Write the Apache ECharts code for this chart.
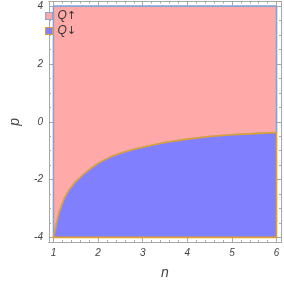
<!DOCTYPE html>
<html><head><meta charset="utf-8">
<script src="https://cdn.jsdelivr.net/npm/echarts@6/dist/echarts.min.js"></script>
<style>html,body{margin:0;padding:0;background:#fff}#c{width:284px;height:285px}</style>
</head><body><div id="c"></div>
<script>
// boundary curve between the two regions
const nValues = [1.0, 1.03, 1.064, 1.134, 1.24, 1.35, 1.5, 1.65, 1.8, 2.0, 2.25, 2.5, 2.75, 3.0, 3.5, 4.0, 4.5, 5.0, 5.5, 6.0];
const pValues = [-4.0, -3.8, -3.56, -3.10, -2.67, -2.36, -2.07, -1.86, -1.66, -1.44, -1.24, -1.09, -0.98, -0.88, -0.72, -0.60, -0.51, -0.45, -0.41, -0.37];
const nRange = [1, 6];
const pRange = [-4, 4];
const regionNames = ['Q\u2191', 'Q\u2193'];
const xMajorTicks = [1, 2, 3, 4, 5, 6];
const xMinorTicks = [1.2,1.4,1.6,1.8,2.2,2.4,2.6,2.8,3.2,3.4,3.6,3.8,4.2,4.4,4.6,4.8,5.2,5.4,5.6,5.8];
const yMajorTicks = [-4, -2, 0, 2, 4];
const yMinorTicks = [-3.5,-3,-2.5,-1.5,-1,-0.5,0.5,1,1.5,2.5,3,3.5];

const pad = 0.02;
const xMin = nRange[0] - pad*(nRange[1]-nRange[0]), xMax = nRange[1] + pad*(nRange[1]-nRange[0]);
const yMin = pRange[0] - pad*(pRange[1]-pRange[0]), yMax = pRange[1] + pad*(pRange[1]-pRange[0]);

const frameColor = '#a8a8a8';
const labelFont = {fontFamily: 'Liberation Sans', fontStyle: 'italic', fontSize: 10, color: '#444'};

function mkX(pos, ticks, len, labels, name) {
  return {
    type: 'value', min: xMin, max: xMax, position: pos, gridIndex: 0,
    axisLine: {show: true, onZero: false, lineStyle: {color: frameColor, width: 1}},
    axisTick: {show: true, inside: true, length: len, customValues: ticks, lineStyle: {color: frameColor}},
    axisLabel: labels ? Object.assign({show: true, customValues: ticks, margin: 6}, labelFont) : {show: false},
    splitLine: {show: false},
    name: name || '', nameLocation: 'middle', nameGap: 24,
    nameTextStyle: {fontFamily: 'Liberation Sans', fontStyle: 'italic', fontSize: 14, color: '#444'}
  };
}
function mkY(pos, ticks, len, labels, name) {
  return {
    type: 'value', min: yMin, max: yMax, position: pos, gridIndex: 0,
    axisLine: {show: true, onZero: false, lineStyle: {color: frameColor, width: 1}},
    axisTick: {show: true, inside: true, length: len, customValues: ticks, lineStyle: {color: frameColor}},
    axisLabel: labels ? Object.assign({show: true, customValues: ticks, margin: 6}, labelFont) : {show: false},
    splitLine: {show: false},
    name: name || '', nameLocation: 'middle', nameGap: 27,
    nameTextStyle: {fontFamily: 'Liberation Sans', fontStyle: 'italic', fontSize: 14, color: '#444'}
  };
}

const upperPoly = () => {
  const pts = [[nRange[0], pRange[0]], [nRange[0], pRange[1]], [nRange[1], pRange[1]]];
  for (let i = nValues.length - 1; i >= 0; i--) pts.push([nValues[i], pValues[i]]);
  return pts;
};
const lowerPoly = () => {
  const pts = [];
  for (let i = 0; i < nValues.length; i++) pts.push([nValues[i], pValues[i]]);
  pts.push([nRange[1], pRange[0]]);
  pts.push([nRange[0], pRange[0]]);
  return pts;
};

function regionSeries(name, polyFn, fill, stroke) {
  return {
    type: 'custom', name: name, xAxisIndex: 0, yAxisIndex: 0, clip: false,
    data: [[nRange[0], pRange[0]]],
    itemStyle: {color: fill, borderColor: stroke, borderWidth: 1.5},
    renderItem: function (params, api) {
      const pts = polyFn().map(p => api.coord(p));
      return {type: 'polygon', shape: {points: pts, smooth: 0}, style: {fill: fill, stroke: stroke, lineWidth: 1.6, lineJoin: 'round'}};
    }
  };
}

const chart = echarts.init(document.getElementById('c'), null, {renderer: 'canvas'});
chart.setOption({
  animation: false,
  grid: {left: 37, right: 3, top: 1.5, bottom: 38.5, containLabel: false},
  xAxis: [
    mkX('bottom', xMajorTicks, 4, true, 'n'),
    mkX('bottom', xMinorTicks, 2, false),
    mkX('top', xMajorTicks, 4, false),
    mkX('top', xMinorTicks, 2, false)
  ],
  yAxis: [
    mkY('left', yMajorTicks, 4, true, 'p'),
    mkY('left', yMinorTicks, 2, false),
    mkY('right', yMajorTicks, 4, false),
    mkY('right', yMinorTicks, 2, false)
  ],
  legend: {
    orient: 'vertical', left: 45, top: 9, itemGap: 1, itemWidth: 7, itemHeight: 7,
    icon: 'rect', padding: 0,
    formatter: function (name) { return '{q|' + name.charAt(0) + '}{a|' + name.slice(1) + '}'; },
    textStyle: {
      padding: [0, 0, 0, 0],
      lineHeight: 14,
      rich: {
        q: {fontFamily: 'Liberation Sans', fontStyle: 'italic', fontSize: 12, color: '#333', lineHeight: 14},
        a: {fontFamily: 'DejaVu Sans', fontSize: 11, color: '#333', lineHeight: 14}
      }
    },
    data: [
      {name: regionNames[0], itemStyle: {color: '#ffa8a8', borderColor: '#8aa6d6', borderWidth: 1.2}},
      {name: regionNames[1], itemStyle: {color: '#8080ff', borderColor: '#e0a030', borderWidth: 1.2}}
    ]
  },
  series: [
    regionSeries(regionNames[0], upperPoly, '#ffa9a9', '#86a2d4'),
    regionSeries(regionNames[1], lowerPoly, '#8080ff', '#e0a030')
  ]
});
</script></body></html>
